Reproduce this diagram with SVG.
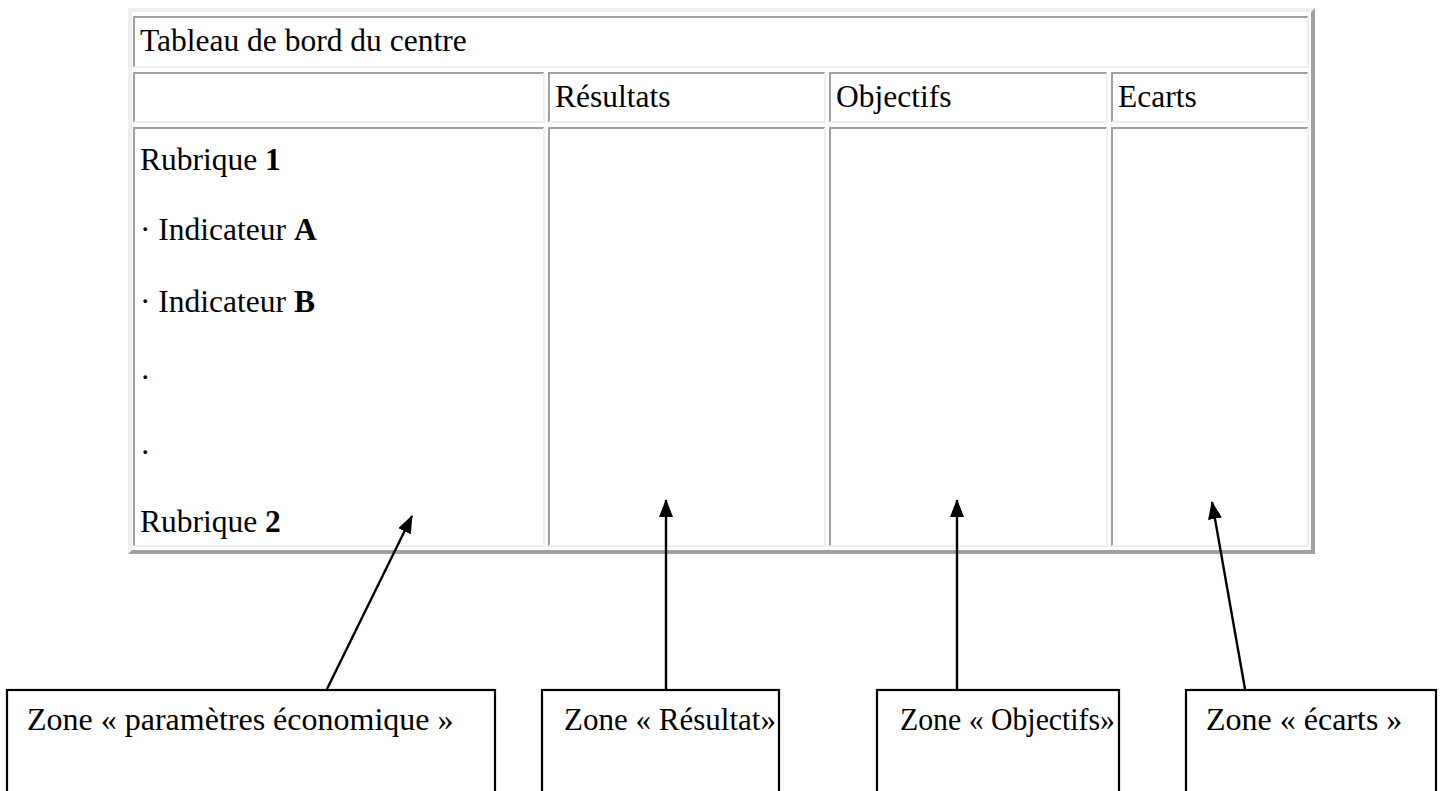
<svg xmlns="http://www.w3.org/2000/svg" width="1443" height="791" viewBox="0 0 1443 791">
  <style>
    .t { font-family: "Liberation Serif", "Times New Roman", serif; font-size: 31.5px; fill: #000; }
    .z { font-family: "Liberation Serif", "Times New Roman", serif; font-size: 32px; fill: #000; }
    .b { font-weight: bold; }
    .dk { fill: none; stroke: #a0a0a0; stroke-width: 2; }
    .lt { fill: none; stroke: #efefef; stroke-width: 2; }
    .box { fill: #fff; stroke: #000; stroke-width: 2.2; }
    .arrow { fill: none; stroke: #000; stroke-width: 2.4; marker-end: url(#head); }
  </style>
  <defs>
    <marker id="head" viewBox="0 0 18 14" refX="17" refY="7" markerUnits="userSpaceOnUse" markerWidth="18" markerHeight="14" orient="auto">
      <path d="M0 0 L18 7 L0 14 Z" fill="#000"/>
    </marker>
  </defs>
  <rect width="1443" height="791" fill="#fff"/>

  <!-- dashboard table: outset outer border -->
  <g id="table">
    <polygon points="128,8 1315,8 1311,12 132,12 132,550 128,554" fill="#efefef"/>
    <polygon points="1315,8 1315,554 128,554 132,550 1311,550 1311,12" fill="#a0a0a0"/>

    <!-- title row -->
    <g id="cell-title">
      <path class="dk" d="M134 67 V17 H1308"/>
      <path class="lt" d="M1308 17 V67 H134"/>
      <text class="t" x="140" y="51">Tableau de bord du centre</text>
    </g>

    <!-- header row -->
    <g id="cell-head-empty">
      <path class="dk" d="M134 122 V73 H544"/>
      <path class="lt" d="M544 73 V122 H134"/>
    </g>
    <g id="cell-head-resultats">
      <path class="dk" d="M549 122 V73 H825"/>
      <path class="lt" d="M825 73 V122 H549"/>
      <text class="t" x="555" y="107">Résultats</text>
    </g>
    <g id="cell-head-objectifs">
      <path class="dk" d="M830 122 V73 H1107"/>
      <path class="lt" d="M1107 73 V122 H830"/>
      <text class="t" x="836" y="107">Objectifs</text>
    </g>
    <g id="cell-head-ecarts">
      <path class="dk" d="M1112 122 V73 H1308"/>
      <path class="lt" d="M1308 73 V122 H1112"/>
      <text class="t" x="1118" y="107">Ecarts</text>
    </g>

    <!-- body row -->
    <g id="cell-rubriques">
      <path class="dk" d="M134 546 V128 H544"/>
      <path class="lt" d="M544 128 V546 H134"/>
      <text class="t" x="140" y="170">Rubrique <tspan class="b">1</tspan></text>
      <text class="t" x="140" y="240">· Indicateur <tspan class="b">A</tspan></text>
      <text class="t" x="140" y="312">· Indicateur <tspan class="b">B</tspan></text>
      <text class="t" x="140" y="388">·</text>
      <text class="t" x="140" y="463">·</text>
      <text class="t" x="140" y="532">Rubrique <tspan class="b">2</tspan></text>
    </g>
    <g id="cell-resultats">
      <path class="dk" d="M549 546 V128 H825"/>
      <path class="lt" d="M825 128 V546 H549"/>
    </g>
    <g id="cell-objectifs">
      <path class="dk" d="M830 546 V128 H1107"/>
      <path class="lt" d="M1107 128 V546 H830"/>
    </g>
    <g id="cell-ecarts">
      <path class="dk" d="M1112 546 V128 H1308"/>
      <path class="lt" d="M1308 128 V546 H1112"/>
    </g>
  </g>

  <!-- zone labels -->
  <g id="zone-parametres">
    <rect class="box" x="7" y="690" width="488" height="120"/>
    <text class="z" x="27" y="730">Zone « paramètres économique »</text>
  </g>
  <g id="zone-resultat">
    <rect class="box" x="542" y="690" width="237" height="120"/>
    <text class="z" x="564" y="730" textLength="212" lengthAdjust="spacingAndGlyphs">Zone « Résultat»</text>
  </g>
  <g id="zone-objectifs">
    <rect class="box" x="877" y="690" width="242" height="120"/>
    <text class="z" x="900" y="730" textLength="215" lengthAdjust="spacingAndGlyphs">Zone « Objectifs»</text>
  </g>
  <g id="zone-ecarts">
    <rect class="box" x="1186" y="690" width="250" height="120"/>
    <text class="z" x="1206" y="730">Zone « écarts »</text>
  </g>

  <!-- pointers from the zones up to the table columns -->
  <g id="connectors">
    <line class="arrow" x1="327" y1="689" x2="412" y2="516"/>
    <line class="arrow" x1="666" y1="689" x2="666" y2="500"/>
    <line class="arrow" x1="957" y1="689" x2="957" y2="500"/>
    <line class="arrow" x1="1245" y1="689" x2="1212" y2="502"/>
  </g>
</svg>
